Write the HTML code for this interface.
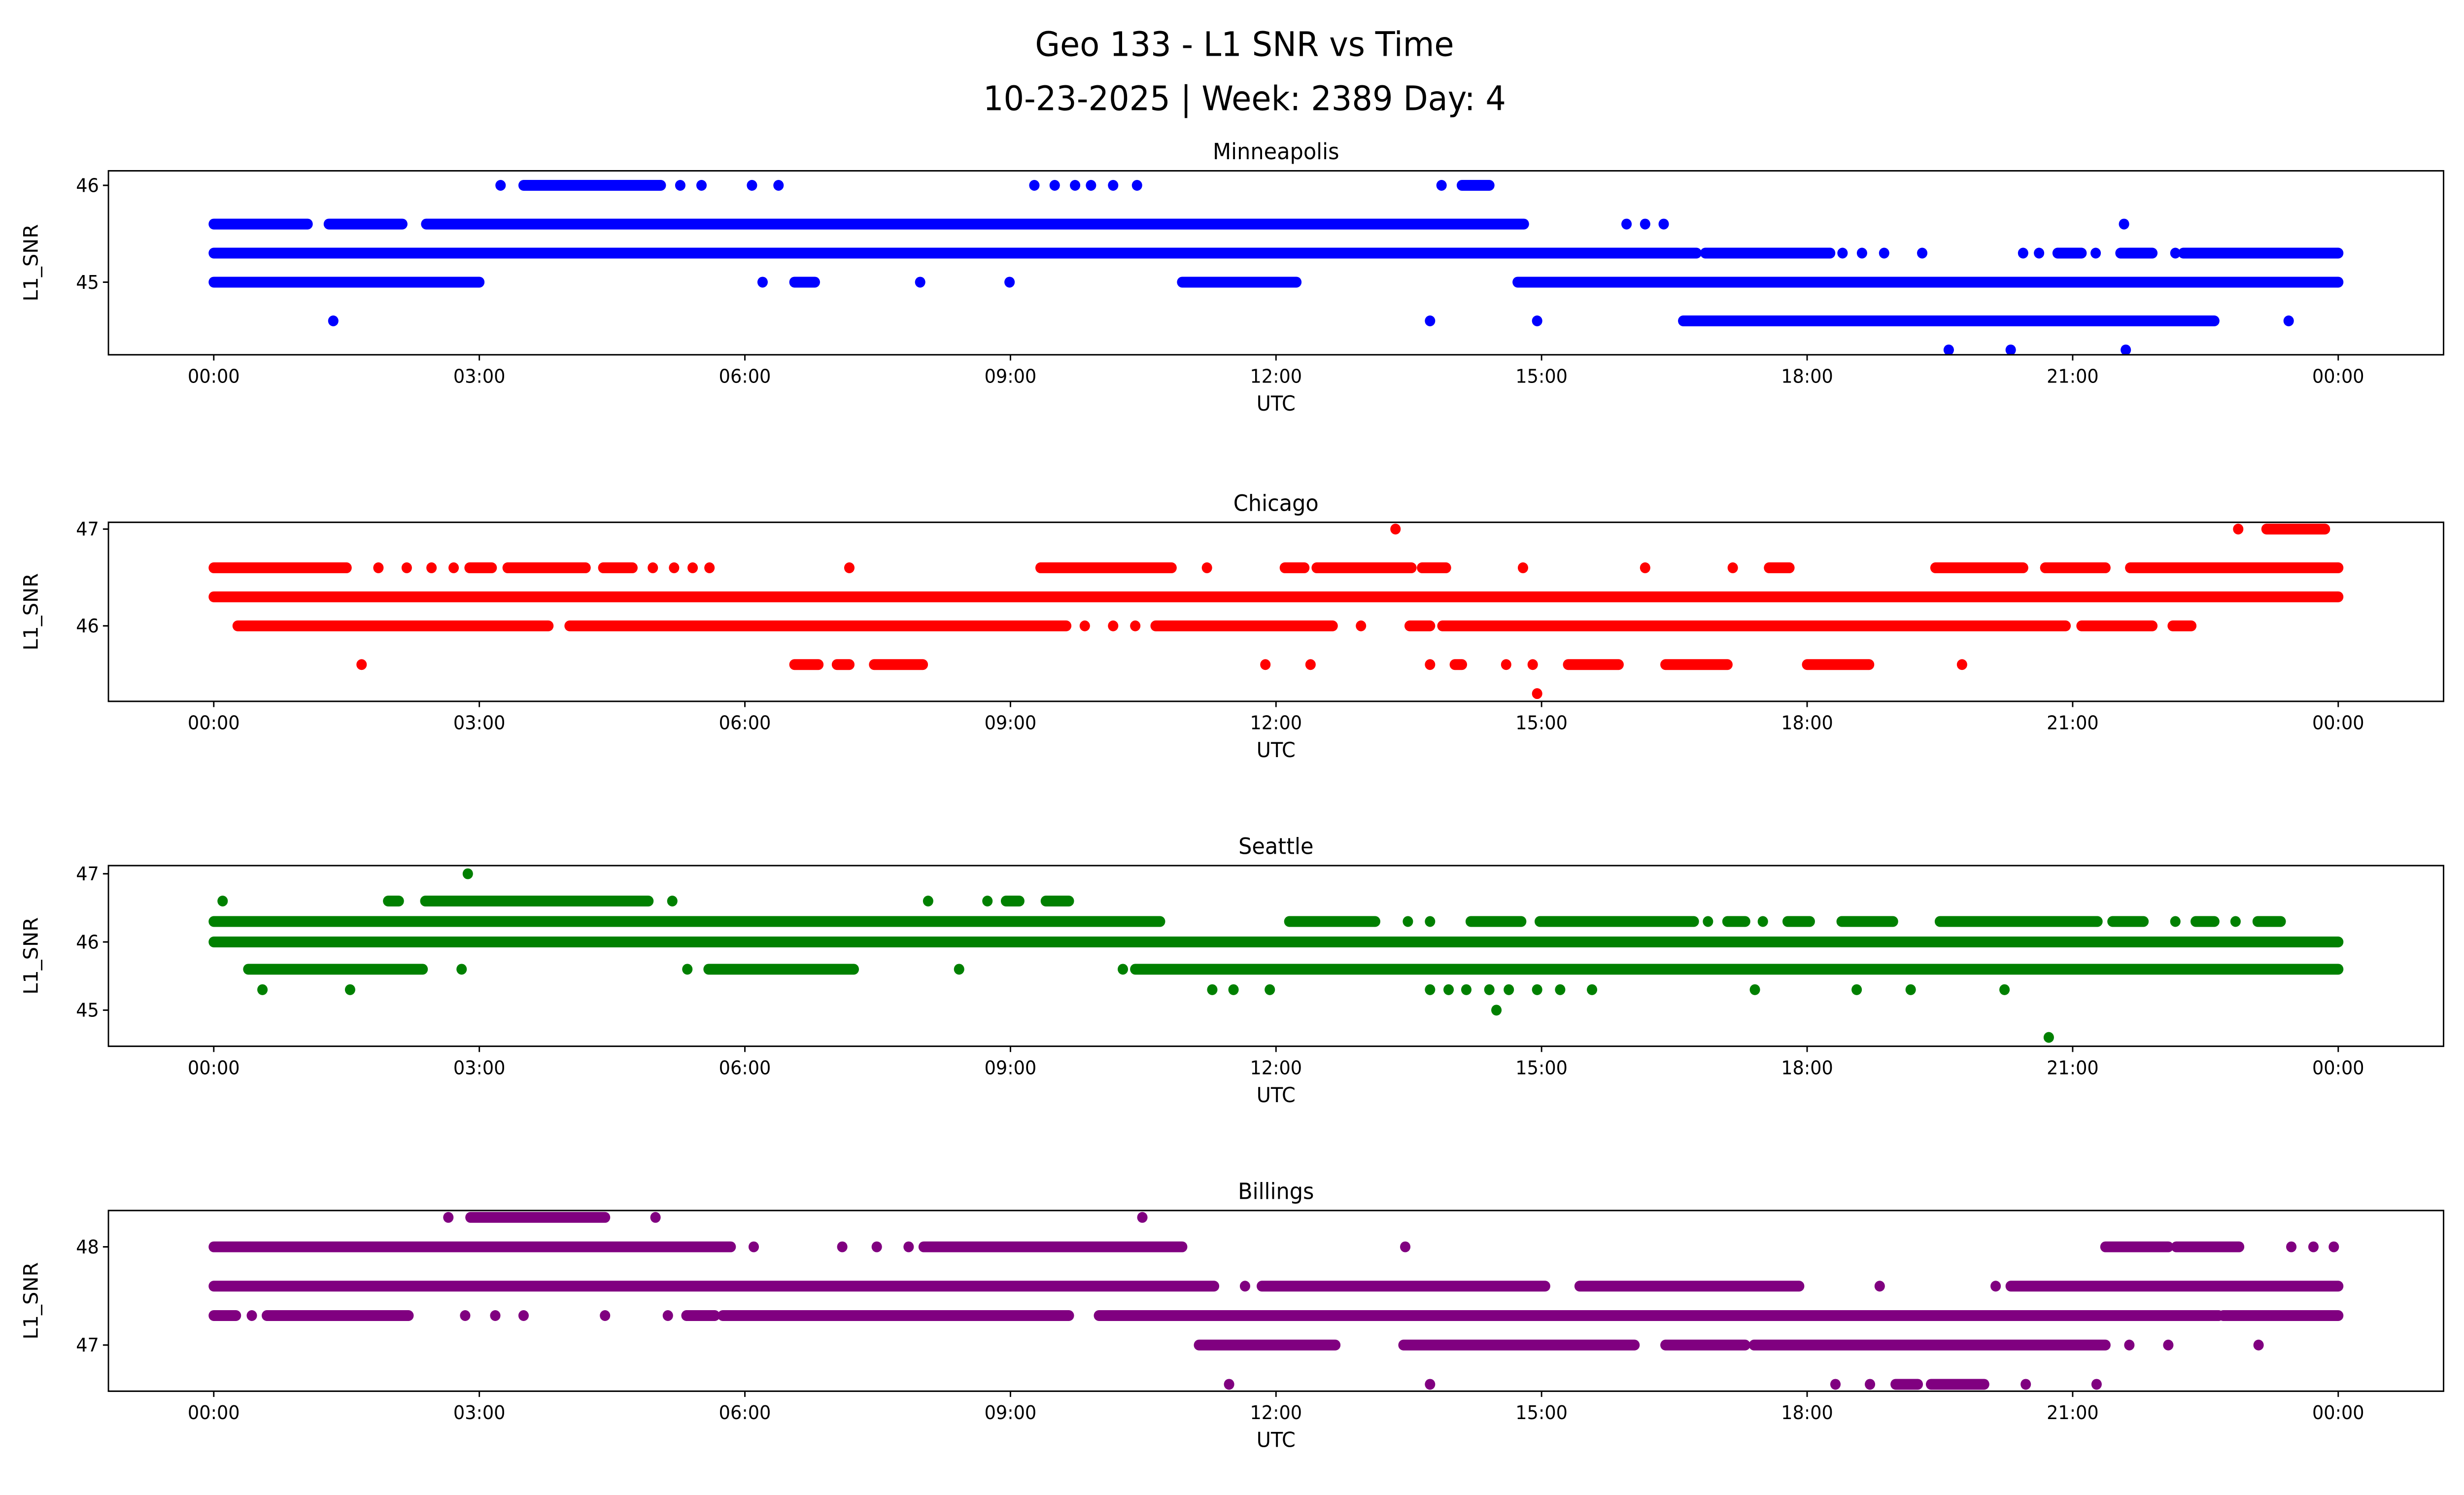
<!DOCTYPE html>
<html><head><meta charset="utf-8"><style>
html,body{margin:0;padding:0;background:#fff;width:100%;height:100%;overflow:hidden;}
svg{display:block;font-family:"DejaVu Sans","Liberation Sans",sans-serif;width:100vw;height:100vh;}
</style></head><body>
<svg id="fig" xmlns="http://www.w3.org/2000/svg" viewBox="0 0 1568 910.2" preserveAspectRatio="none">
<rect width="1568" height="910.2" fill="#fff"/>
<text x="792" y="34" text-anchor="middle" font-size="20.5">Geo 133 - L1 SNR vs Time</text>
<text x="792" y="67" text-anchor="middle" font-size="20.5">10-23-2025 | Week: 2389 Day: 4</text>
<g id="plots"></g>
</svg>
<script>
// ---- data (hours UTC) ----
const panelNames = ["Minneapolis","Chicago","Seattle","Billings"];
const panelColors = ["#0000ff","#ff0000","#008000","#800080"];
const xTickHours = [0,3,6,9,12,15,18,21,24];
const xTickLabels = ["00:00","03:00","06:00","09:00","12:00","15:00","18:00","21:00","00:00"];
const yTicks = [[45,46],[46,47],[45,46,47],[47,48]];
const yDomains = [[44.25,46.15],[45.22,47.07],[44.47,47.12],[46.53,48.37]];

const mplsLevels = [46.0,45.6,45.3,45.0,44.6,44.3];
const mplsSegs = [
 [[3.5,5.05],[14.1,14.41]],
 [[0,1.06],[1.3,2.13],[2.4,14.8]],
 [[0,16.75],[16.85,18.26],[20.83,21.1],[21.54,21.9],[22.25,24]],
 [[0,3.0],[6.56,6.79],[10.94,12.23],[14.73,24]],
 [[16.6,22.6]],
 []];
const mplsPts = [
 [3.24,5.27,5.51,6.08,6.38,9.27,9.5,9.73,9.91,10.16,10.43,13.87],
 [15.96,16.17,16.38,21.58],
 [18.4,18.62,18.87,19.3,20.44,20.62,21.26,22.16],
 [6.2,7.98,8.99],
 [1.35,13.74,14.95,23.44],
 [19.6,20.3,21.6]];

const chiLevels = [47.0,46.6,46.3,46.0,45.6,45.3];
const chiSegs = [
 [[23.19,23.85]],
 [[0,1.5],[2.89,3.14],[3.32,4.2],[4.4,4.73],[9.34,10.82],[12.1,12.32],[12.46,13.53],[13.65,13.92],[17.57,17.8],[19.45,20.44],[20.69,21.37],[21.65,24]],
 [[0,24]],
 [[0.27,3.78],[4.02,9.63],[10.64,12.64],[13.51,13.74],[13.88,20.92],[21.1,21.9],[22.13,22.34]],
 [[6.56,6.83],[7.04,7.18],[7.46,8.01],[14.02,14.1],[15.3,15.87],[16.4,17.1],[18.0,18.7]],
 []];
const chiPts = [
 [13.35,22.87],
 [1.86,2.18,2.46,2.71,4.96,5.2,5.41,5.6,7.18,11.22,14.79,16.17,17.16],
 [],
 [9.84,10.16,10.41,12.96],
 [1.67,11.88,12.39,13.74,14.6,14.9,19.75],
 [14.95]];

const seaLevels = [47.0,46.6,46.3,46.0,45.6,45.3,45.0,44.6];
const seaSegs = [
 [],
 [[1.97,2.09],[2.39,4.91],[8.95,9.1],[9.4,9.66]],
 [[0,10.69],[12.15,13.12],[14.2,14.77],[14.98,16.72],[17.1,17.3],[17.78,18.03],[18.39,18.97],[19.5,21.28],[21.45,21.8],[22.39,22.6],[23.09,23.35]],
 [[0,24]],
 [[0.39,2.36],[5.59,7.23],[10.41,24]],
 [],
 [],
 []];
const seaPts = [
 [2.87],
 [0.1,5.18,8.07,8.74],
 [13.49,13.74,16.88,17.5,22.16,22.84],
 [],
 [2.8,5.35,8.42,10.27],
 [0.55,1.54,11.28,11.52,11.93,13.74,13.95,14.15,14.41,14.63,14.95,15.21,15.57,17.41,18.56,19.17,20.23],
 [14.49],
 [20.73]];

const bilLevels = [48.3,48.0,47.6,47.3,47.0,46.6];
const bilSegs = [
 [[2.9,4.42]],
 [[0,5.84],[8.02,10.94],[21.37,22.08],[22.17,22.88]],
 [[0,11.3],[11.84,15.04],[15.43,17.91],[20.3,24]],
 [[0,0.25],[0.6,2.2],[5.34,5.66],[5.75,9.66],[10.0,22.65],[22.7,24]],
 [[11.13,12.67],[13.44,16.05],[16.4,17.3],[17.4,21.37]],
 [[19.0,19.25],[19.4,20.0]]];
const bilPts = [
 [2.65,4.99,10.49],
 [6.1,7.1,7.49,7.85,13.46,23.47,23.72,23.95],
 [11.65,18.82,20.13],
 [0.43,2.84,3.18,3.5,4.42,5.13],
 [21.64,22.08,23.1],
 [11.47,13.74,18.32,18.71,20.47,21.27]];

const allLevels = [mplsLevels,chiLevels,seaLevels,bilLevels];
const allSegs = [mplsSegs,chiSegs,seaSegs,bilSegs];
const allPts = [mplsPts,chiPts,seaPts,bilPts];

// ---- layout ----
const NS = "http://www.w3.org/2000/svg";
const axL = 69, axR = 1555;
const axTops = [104,318,527,737];
const axBots = [216,427,637,847];
const xMin = -1.19, xMax = 25.19;
const R = 3.3;
const root = document.getElementById('plots');
function mk(tag, attrs, parent){const e=document.createElementNS(NS,tag);for(const k in attrs)e.setAttribute(k,attrs[k]);(parent||root).appendChild(e);return e;}
function xs(h){return axL+(h-xMin)/(xMax-xMin)*(axR-axL);}

for(let p=0;p<4;p++){
  const top=axTops[p], bot=axBots[p], dom=yDomains[p], col=panelColors[p];
  const ys = v => bot-(v-dom[0])/(dom[1]-dom[0])*(bot-top);
  const g = mk('g',{});
  
  
  const t = mk('text',{x:(axL+axR)/2,y:top-7,'text-anchor':'middle','font-size':13.5},g);
  t.textContent = panelNames[p];
  
  
  const series = mk('g',{fill:col,stroke:col},g);
  
  
  const lv = allLevels[p];
  for(let i=0;i<lv.length;i++){
    const y = ys(lv[i]);
    for(const s of allSegs[p][i]){
      const l = mk('line',{x1:xs(s[0]),x2:xs(s[1]),y1:y,y2:y,'stroke-width':2*R,'stroke-linecap':'round'},series);
      
      
    }
    for(const h of allPts[p][i]){
      const c = mk('circle',{cx:xs(h),cy:y,r:R,stroke:'none'},series);
      
      
    }
  }
  const frame = mk('rect',{x:axL,y:top,width:axR-axL,height:bot-top,fill:'none',stroke:'#000','stroke-width':0.9},g);
  
  
  for(let k=0;k<xTickHours.length;k++){
    const x = xs(xTickHours[k]);
    mk('line',{x1:x,x2:x,y1:bot,y2:bot+3.5,stroke:'#000','stroke-width':0.9},g);
    const tl = mk('text',{x:x,y:bot+17,'text-anchor':'middle','font-size':11.5},g);
    tl.textContent = xTickLabels[k];
    
    
  }
  for(const v of yTicks[p]){
    const y = ys(v);
    mk('line',{x1:axL-3.5,x2:axL,y1:y,y2:y,stroke:'#000','stroke-width':0.9},g);
    const tl = mk('text',{x:axL-6,y:y+4,'text-anchor':'end','font-size':11.5},g);
    tl.textContent = String(v);
    
    
  }
  const xl = mk('text',{x:(axL+axR)/2,y:bot+34,'text-anchor':'middle','font-size':12.5},g);
  xl.textContent = 'UTC';
  
  
  const cy=(top+bot)/2;
  const yl = mk('text',{x:24,y:cy,'text-anchor':'middle','font-size':12.5,transform:'rotate(-90 24 '+cy+')'},g);
  yl.textContent = 'L1_SNR';
  
  
}
</script>
</body></html>
